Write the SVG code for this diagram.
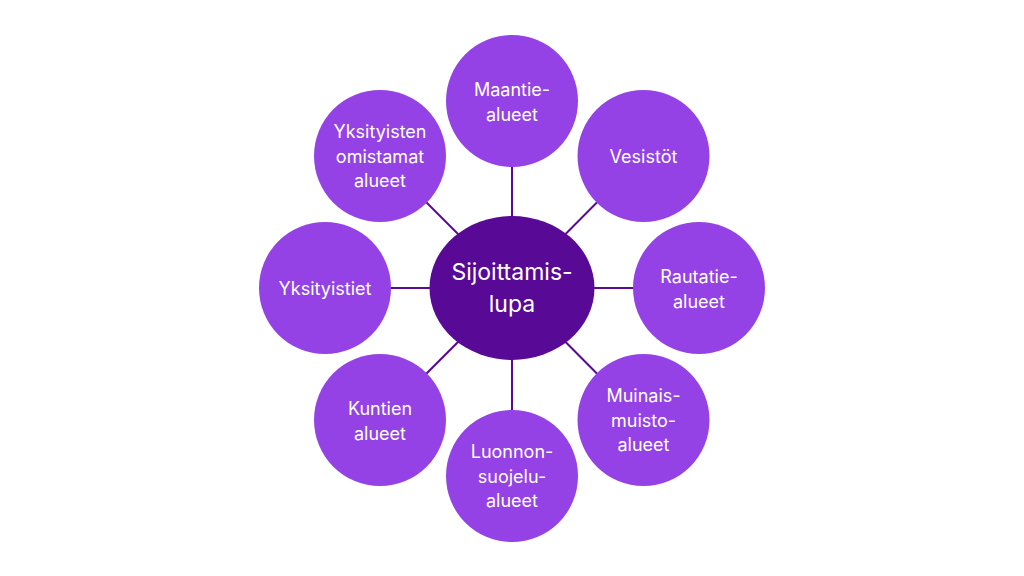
<svg xmlns="http://www.w3.org/2000/svg" width="1024" height="576" viewBox="0 0 1024 576">
<style>
.c{fill:#9442E6}
.m{fill:#580A96}
.t{fill:#FFFFFF;font-family:Inter,"Noto Sans","Liberation Sans",sans-serif;font-size:18px;text-anchor:middle}
.tc{fill:#FFFFFF;font-family:Inter,"Noto Sans","Liberation Sans",sans-serif;font-size:23px;text-anchor:middle}
.l{stroke:#580A96;stroke-width:2;fill:none}
</style>
<rect width="1024" height="576" fill="#FFFFFF"/>
<g id="connectors">
<line class="l" x1="512" y1="288" x2="512" y2="101"/>
<line class="l" x1="512" y1="288" x2="643" y2="156"/>
<line class="l" x1="512" y1="288" x2="699" y2="288"/>
<line class="l" x1="512" y1="288" x2="643" y2="420"/>
<line class="l" x1="512" y1="288" x2="512" y2="476"/>
<line class="l" x1="512" y1="288" x2="380" y2="420"/>
<line class="l" x1="512" y1="288" x2="325" y2="288"/>
<line class="l" x1="512" y1="288" x2="380" y2="156"/>
</g>
<g id="center">
<ellipse class="m" cx="512" cy="288" rx="82.5" ry="72"/>
<text class="tc" x="512" y="280">Sijoittamis-</text>
<text class="tc" x="512" y="312">lupa</text>
</g>
<g id="maantie">
<circle class="c" cx="512" cy="101" r="66"/>
<text class="t" x="512" y="96">Maantie-</text>
<text class="t" x="512" y="120.5">alueet</text>
</g>
<g id="vesistot">
<circle class="c" cx="643.5" cy="156" r="66"/>
<text class="t" x="643.5" y="162.5">Vesistöt</text>
</g>
<g id="rautatie">
<circle class="c" cx="699" cy="288" r="66"/>
<text class="t" x="699" y="283">Rautatie-</text>
<text class="t" x="699" y="307.5">alueet</text>
</g>
<g id="muinais">
<circle class="c" cx="643.5" cy="420" r="66"/>
<text class="t" x="643.5" y="402">Muinais-</text>
<text class="t" x="643.5" y="426.5">muisto-</text>
<text class="t" x="643.5" y="451">alueet</text>
</g>
<g id="luonnon">
<circle class="c" cx="512" cy="476" r="66"/>
<text class="t" x="512" y="458">Luonnon-</text>
<text class="t" x="512" y="482.5">suojelu-</text>
<text class="t" x="512" y="507">alueet</text>
</g>
<g id="kuntien">
<circle class="c" cx="380" cy="420" r="66"/>
<text class="t" x="380" y="415">Kuntien</text>
<text class="t" x="380" y="439.5">alueet</text>
</g>
<g id="yksityistiet">
<circle class="c" cx="325" cy="288" r="66"/>
<text class="t" x="325" y="294.5">Yksityistiet</text>
</g>
<g id="yksityisten">
<circle class="c" cx="380" cy="156" r="66"/>
<text class="t" x="380" y="138">Yksityisten</text>
<text class="t" x="380" y="162.5">omistamat</text>
<text class="t" x="380" y="187">alueet</text>
</g>
</svg>
